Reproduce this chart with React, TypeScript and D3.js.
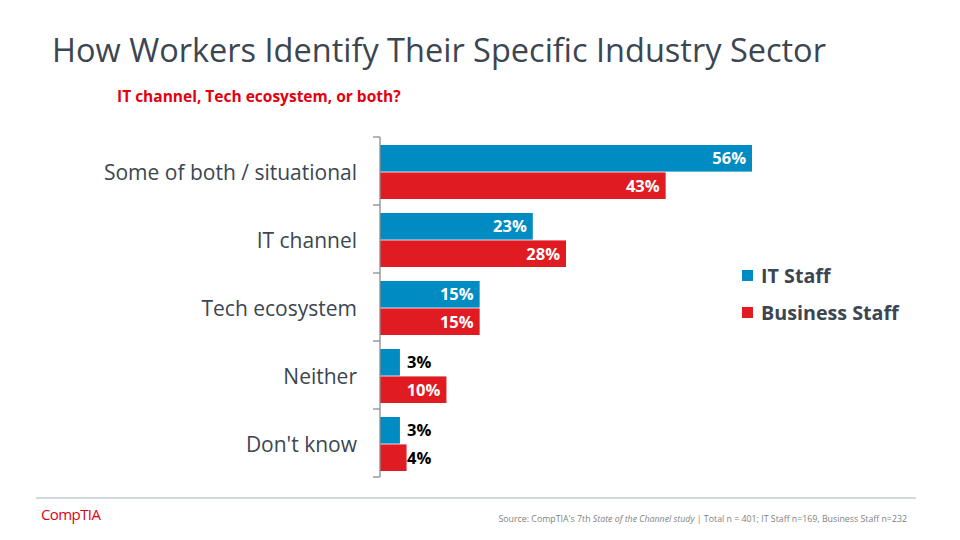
import React from "react";
import * as d3 from "d3";

const categories = ["Some of both / situational", "IT channel", "Tech ecosystem", "Neither", "Don't know"];
const seriesNames = ["IT Staff", "Business Staff"];
const itStaff = [56, 23, 15, 3, 3];
const businessStaff = [43, 28, 15, 10, 4];
const seriesColors = ["#008BC2", "#E11B22"];

const W = 960, H = 540;
const FONT = "'Open Sans', 'Noto Sans', sans-serif";

export default function App() {
  const x = d3.scaleLinear().domain([0, 56]).range([380, 752]);
  const y = d3.scaleBand().domain(categories).range([137, 477]);
  const inner = d3.scaleBand().domain(seriesNames).range([8, 62]).paddingInner(0.03);
  const series = [itStaff, businessStaff];
  const tickYs = [...categories.map(c => y(c) as number), 477];

  return (
    <svg width={W} height={H} style={{ position: "absolute", left: 0, top: 0, background: "#fff" }} fontFamily={FONT}>
      <text x={52} y={62} fontSize={32.5} fill="#3B4650">How Workers Identify Their Specific Industry Sector</text>
      <text x={117} y={102} fontSize={15.5} fontWeight={700} fill="#E3000F">IT channel, Tech ecosystem, or both?</text>

      {categories.map((c, i) => (
        <g key={c}>
          <text x={357} y={(y(c) as number) + y.bandwidth() / 2 + 2} dy="0.35em" textAnchor="end" fontSize={21} fill="#3B4650">{c}</text>
          {series.map((s, k) => {
            const v = s[i];
            const by = (y(c) as number) + (inner(seriesNames[k]) as number);
            const bw = x(v) - x(0);
            const inside = v >= 10;
            return (
              <g key={k}>
                <rect x={x(0)} y={by} width={bw} height={inner.bandwidth()} fill={seriesColors[k]} />
                <text x={inside ? x(v) - 6 : x(0) + 27} y={by + inner.bandwidth() / 2} dy="0.36em"
                  textAnchor={inside ? "end" : "start"} fontSize={16.5} fontWeight={700}
                  fill={inside ? "#fff" : "#000"}>{v}%</text>
              </g>
            );
          })}
        </g>
      ))}

      <line x1={380} x2={380} y1={137} y2={477} stroke="#8C8C8C" strokeWidth={1.3} />
      {tickYs.map((ty, i) => (
        <line key={i} x1={373} x2={380} y1={ty} y2={ty} stroke="#8C8C8C" strokeWidth={1.3} />
      ))}

      {seriesNames.map((n, k) => (
        <g key={n} transform={`translate(742, ${276 + k * 37})`}>
          <rect x={0} y={-6} width={11} height={11} fill={seriesColors[k]} />
          <text x={19} y={0} dy="0.35em" fontSize={19.7} fontWeight={700} fill="#3B4650">{n}</text>
        </g>
      ))}

      <line x1={36} x2={916} y1={498} y2={498} stroke="#A7B4BF" strokeWidth={1} />
      <text x={41} y={520} fontSize={15} fill="#E3000F" letterSpacing={-0.6}>CompTIA</text>
      <text x={907} y={522} textAnchor="end" fontSize={8.8} fill="#7F7F7F">
        Source: CompTIA's 7th <tspan fontStyle="italic">State of the Channel study</tspan> | Total n = 401; IT Staff n=169, Business Staff n=232
      </text>
    </svg>
  );
}
